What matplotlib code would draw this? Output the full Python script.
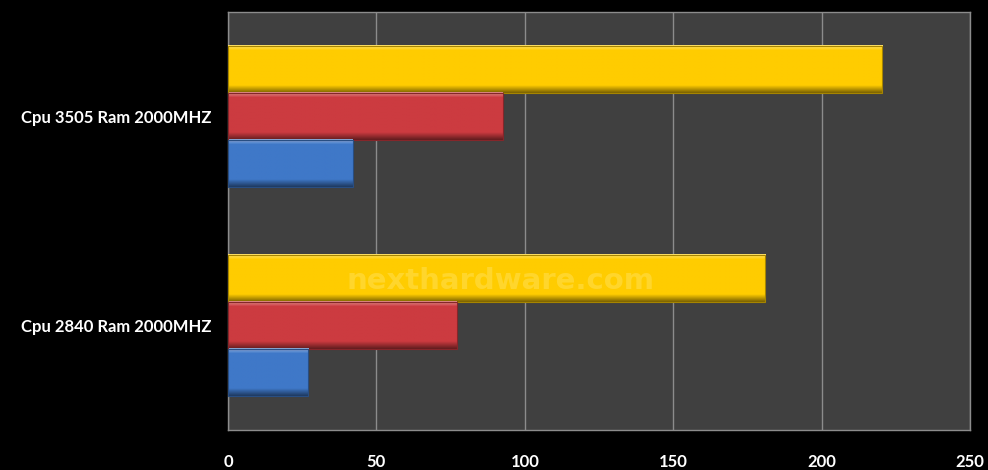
import numpy as np
import matplotlib.pyplot as plt
from matplotlib.colors import to_rgb

categories = ["Cpu 2840 Ram 2000MHZ", "Cpu 3505 Ram 2000MHZ"]
yellow_vals = [181, 220.5]
red_vals = [77, 92.5]
blue_vals = [27, 42]
xticks = [0, 50, 100, 150, 200, 250]

series = [(yellow_vals, "#FFCC00", 1), (red_vals, "#CC3B40", 0), (blue_vals, "#3F78C8", -1)]

fig = plt.figure(figsize=(9.88, 4.70), dpi=100, facecolor="black")
ax = fig.add_axes([228 / 988, 1 - 430 / 470, 742 / 988, 418 / 470])
ax.set_facecolor("#404040")

bar_h = 0.225
ypos = np.arange(len(categories))


def shade(color, f):
    c = np.array(to_rgb(color))
    if f >= 0:
        return c + (1 - c) * f
    return c * (1 + f)


# gradient for a bevelled look: light top edge, darker bottom edge
grad_f = np.concatenate([np.linspace(0.4, 0.0, 5), np.zeros(28), np.linspace(0.0, -0.5, 7)])

for vals, color, off in series:
    for y, v in zip(ypos, vals):
        y0 = y + off * bar_h - bar_h / 2
        img = np.array([[shade(color, f)] * 2 for f in grad_f])
        ax.imshow(img, extent=(0, v, y0, y0 + bar_h), origin="upper",
                  aspect="auto", zorder=3, interpolation="bilinear")
        ax.barh(y + off * bar_h, v, height=bar_h, color="none",
                edgecolor=shade(color, -0.35), linewidth=0.8, zorder=4)

ax.set_xlim(0, 250)
ax.set_ylim(-0.5, len(categories) - 0.5)
ax.set_xticks(xticks)
ax.set_xticklabels([str(t) for t in xticks])
ax.set_yticks(ypos)
ax.set_yticklabels(categories)
ax.grid(axis="x", color="#8C8C8C", linewidth=1.0, zorder=1)
ax.set_axisbelow(True)
for s in ax.spines.values():
    s.set_color("#8C8C8C")
    s.set_linewidth(1.0)
ax.tick_params(length=0, colors="white", labelsize=12)
ax.tick_params(axis="x", pad=17)
ax.tick_params(axis="y", pad=12)
for lab in ax.get_xticklabels() + ax.get_yticklabels():
    lab.set_fontfamily("Lato")
    lab.set_fontweight("bold")
    lab.set_color("white")

# watermark
fig.text(500 / 988, 1 - 281 / 470, "nexthardware.com", ha="center", va="center",
         fontsize=21, fontweight="bold", family="DejaVu Sans", color="#FFF0A0",
         alpha=0.28, zorder=10)

fig.savefig("out.png", dpi=100, facecolor="black")
